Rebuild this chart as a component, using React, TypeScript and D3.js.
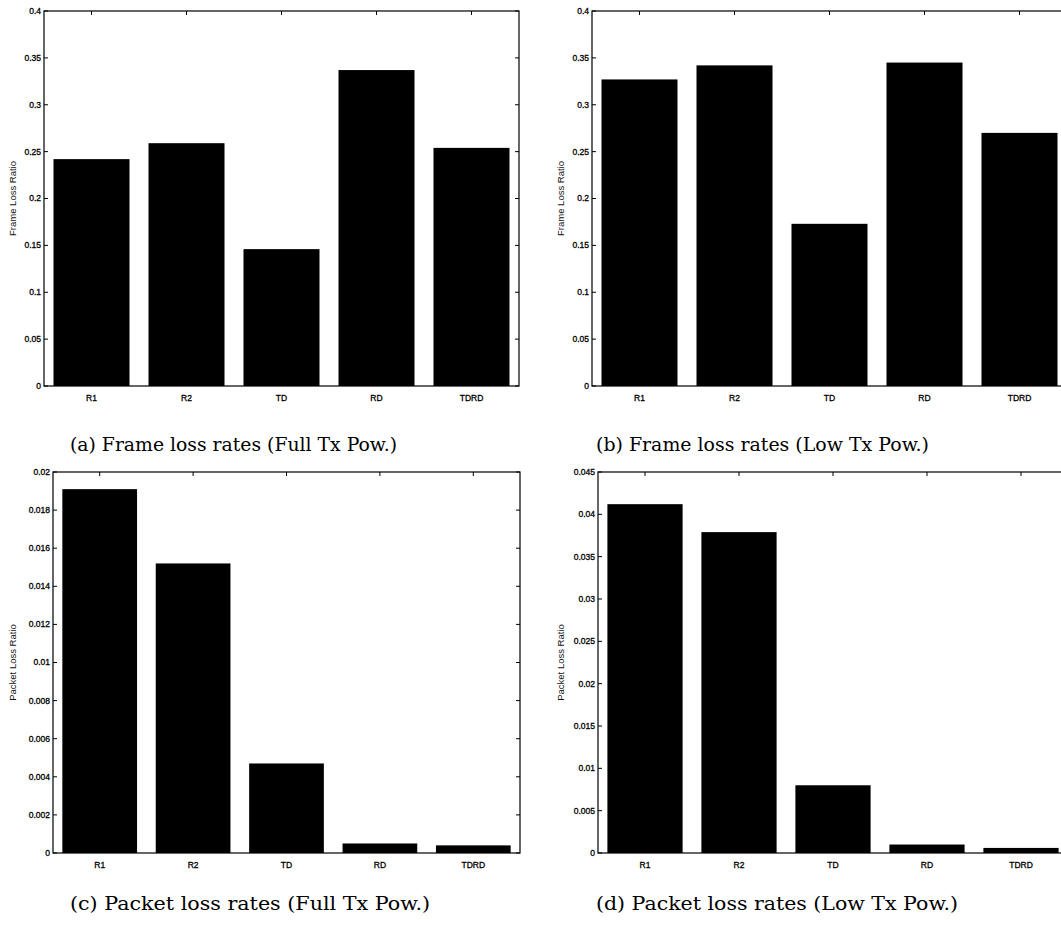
import React from "react";
import * as d3 from "d3";

const categories = ["R1", "R2", "TD", "RD", "TDRD"];
const frameFull = [0.242, 0.259, 0.146, 0.337, 0.254];
const frameLow = [0.327, 0.342, 0.173, 0.345, 0.27];
const packetFull = [0.0191, 0.0152, 0.0047, 0.0005, 0.0004];
const packetLow = [0.0412, 0.0379, 0.008, 0.001, 0.0006];

const frameTicks = [0, 0.05, 0.1, 0.15, 0.2, 0.25, 0.3, 0.35, 0.4];
const packetFullTicks = [0, 0.002, 0.004, 0.006, 0.008, 0.01, 0.012, 0.014, 0.016, 0.018, 0.02];
const packetLowTicks = [0, 0.005, 0.01, 0.015, 0.02, 0.025, 0.03, 0.035, 0.04, 0.045];

const captionA = "(a) Frame loss rates (Full Tx Pow.)";
const captionB = "(b) Frame loss rates (Low Tx Pow.)";
const captionC = "(c) Packet loss rates (Full Tx Pow.)";
const captionD = "(d) Packet loss rates (Low Tx Pow.)";

type PanelProps = {
  left: number;
  right: number;
  top: number;
  bottom: number;
  values: number[];
  ticks: number[];
  ymax: number;
  ylabel: string;
  ylabelX: number;
};

const sans = "'Liberation Sans', Arial, Helvetica, sans-serif";
const serif = "'DejaVu Serif', 'Liberation Serif', serif";

function Panel(p: PanelProps) {
  const x = d3
    .scaleBand<string>()
    .domain(categories)
    .range([p.left, p.right])
    .paddingInner(0.2)
    .paddingOuter(0.1);
  const y = d3.scaleLinear().domain([0, p.ymax]).range([p.bottom, p.top]);
  const fmt = d3.format("~g");
  const tl = 4;
  return (
    <g>
      {categories.map((c, i) => (
        <rect
          key={c}
          x={x(c)}
          y={y(p.values[i])}
          width={x.bandwidth()}
          height={y(0) - y(p.values[i])}
          fill="#000"
        />
      ))}
      <rect
        x={p.left}
        y={p.top}
        width={p.right - p.left}
        height={p.bottom - p.top}
        fill="none"
        stroke="#000"
        strokeWidth={1.2}
      />
      {p.ticks.map((t) => (
        <g key={t}>
          <line x1={p.left} x2={p.left + tl} y1={y(t)} y2={y(t)} stroke="#000" />
          <line x1={p.right} x2={p.right - tl} y1={y(t)} y2={y(t)} stroke="#000" />
          <text
            x={p.left - 3}
            y={y(t)}
            dy="0.35em"
            textAnchor="end"
            fontFamily={sans}
            fontSize={8.5}
            fill="#000"
            stroke="#000"
            strokeWidth={0.3}
          >
            {fmt(t)}
          </text>
        </g>
      ))}
      {categories.map((c) => {
        const cx = (x(c) as number) + x.bandwidth() / 2;
        return (
          <g key={c}>
            <line x1={cx} x2={cx} y1={p.top} y2={p.top + tl} stroke="#000" />
            <line x1={cx} x2={cx} y1={p.bottom} y2={p.bottom - tl} stroke="#000" />
            <text
              x={cx}
              y={p.bottom + 15}
              textAnchor="middle"
              fontFamily={sans}
              fontSize={8.5}
              fill="#000"
              stroke="#000"
              strokeWidth={0.3}
            >
              {c}
            </text>
          </g>
        );
      })}
      <text
        transform={`translate(${p.ylabelX},${(p.top + p.bottom) / 2}) rotate(-90)`}
        textAnchor="middle"
        fontFamily={sans}
        fontSize={9.5}
        fill="#111"
      >
        {p.ylabel}
      </text>
    </g>
  );
}

function Caption({ x, y, text, width }: { x: number; y: number; text: string; width: number }) {
  return (
    <text
      x={x}
      y={y}
      fontFamily={serif}
      fontSize={19}
      fill="#000"
      textLength={width}
      lengthAdjust="spacingAndGlyphs"
    >
      {text}
    </text>
  );
}

export default function App() {
  return (
    <svg
      width={1061}
      height={928}
      style={{ position: "absolute", left: 0, top: 0, background: "#fff" }}
    >
      <Panel
        left={44}
        right={519}
        top={11}
        bottom={386}
        values={frameFull}
        ticks={frameTicks}
        ymax={0.4}
        ylabel="Frame Loss Ratio"
        ylabelX={16}
      />
      <Panel
        left={592}
        right={1067}
        top={11}
        bottom={386}
        values={frameLow}
        ticks={frameTicks}
        ymax={0.4}
        ylabel="Frame Loss Ratio"
        ylabelX={564}
      />
      <Panel
        left={53}
        right={520}
        top={472}
        bottom={853}
        values={packetFull}
        ticks={packetFullTicks}
        ymax={0.02}
        ylabel="Packet Loss Ratio"
        ylabelX={16}
      />
      <Panel
        left={598}
        right={1068}
        top={472}
        bottom={853}
        values={packetLow}
        ticks={packetLowTicks}
        ymax={0.045}
        ylabel="Packet Loss Ratio"
        ylabelX={564}
      />
      <Caption x={70} y={451} text={captionA} width={327} />
      <Caption x={596} y={451} text={captionB} width={333} />
      <Caption x={70} y={910} text={captionC} width={360} />
      <Caption x={596} y={910} text={captionD} width={362} />
    </svg>
  );
}
